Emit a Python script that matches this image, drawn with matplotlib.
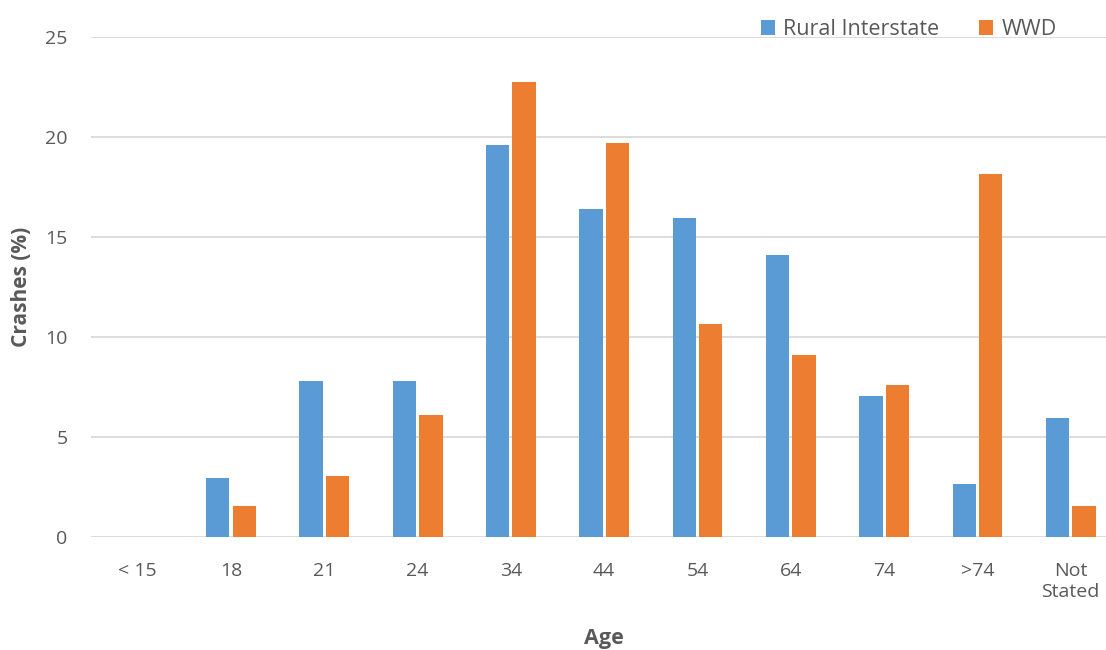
import numpy as np
import matplotlib.pyplot as plt

# データ
ages = ['< 15', '18', '21', '24', '34', '44', '54', '64', '74', '>74', 'Not\nStated']
rural = [0, 2.93, 7.8, 7.8, 19.6, 16.4, 15.95, 14.1, 7.05, 2.65, 5.95]
wwd = [0, 1.55, 3.07, 6.08, 22.75, 19.7, 10.65, 9.1, 7.6, 18.15, 1.55]

plt.rcParams['font.family'] = ['Open Sans', 'DejaVu Sans']
text_color = '#595959'

fig = plt.figure(figsize=(11.06, 6.5), dpi=100)
ax = fig.add_axes([0.0823, 0.174, 0.928, 0.769])

x = np.arange(len(ages))
w = 0.25
ax.bar(x - w / 2 - 0.017, rural, width=w, color='#5b9bd5', label='Rural Interstate', zorder=3)
ax.bar(x + w / 2 + 0.017, wwd, width=w, color='#ed7d31', label='WWD', zorder=3)

ax.set_xlim(-0.5, len(ages) - 0.5)
ax.set_ylim(0, 25)
ax.set_yticks([0, 5, 10, 15, 20, 25])
ax.set_xticks(x)
ax.set_xticklabels(ages)
ax.grid(axis='y', color='#d9d9d9', linewidth=1.3, zorder=0)
for s in ax.spines.values():
    s.set_visible(False)
ax.tick_params(length=0, labelsize=14, colors=text_color)
ax.tick_params(axis='x', pad=18)
ax.tick_params(axis='y', pad=17)

ax.set_xlabel('Age', fontsize=15.5, fontweight='bold', color=text_color, labelpad=20)
ax.set_ylabel('Crashes (%)', fontsize=15, fontweight='bold', color=text_color)
ax.yaxis.set_label_coords(-0.0575, 0.5)

ax.legend(loc='upper right', bbox_to_anchor=(0.96, 1.075), ncol=2, frameon=False,
          fontsize=15.5, labelcolor=text_color, handlelength=0.65, handleheight=0.65,
          columnspacing=1.85, handletextpad=0.4)

fig.savefig('out.png', dpi=100)
